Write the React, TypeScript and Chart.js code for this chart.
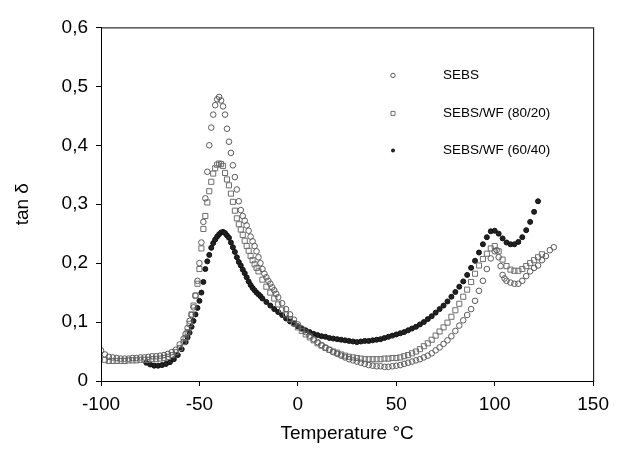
import React, { useEffect, useRef } from "react";
import { Chart, registerables } from "chart.js";

Chart.register(...registerables);

const X_TICKS = [-100, -50, 0, 50, 100, 150];
const Y_TICKS = [0, 0.1, 0.2, 0.3, 0.4, 0.5, 0.6];
const Y_TICK_LABELS = ["0", "0,1", "0,2", "0,3", "0,4", "0,5", "0,6"];

const SERIES_LABELS = ["SEBS", "SEBS/WF (80/20)", "SEBS/WF (60/40)"];

const SEBS_T = [
  -100, -98, -96, -94, -92, -90, -88, -86, -84, -82, -80, -78, -76, -74, -72, -70, -68, -66, -64, -62, -60, -58, -57, -56,
  -55, -54, -53, -52, -51, -50, -49, -48, -47, -46, -45, -44, -43, -42, -41, -40, -39, -38, -37, -36, -35, -34, -33, -32,
  -31, -30, -29, -28, -27, -26, -25, -24, -23, -22, -21, -20, -19, -18, -17, -16, -15, -14, -13, -12, -11, -10, -8, -6,
  -4, -2, 0, 2, 4, 6, 8, 10, 12, 14, 16, 18, 20, 22, 24, 26, 28, 30, 32, 34, 36, 38, 40, 42, 44, 46, 48, 50, 52, 54, 56,
  58, 60, 62, 64, 66, 68, 70, 72, 74, 76, 78, 80, 82, 84, 86, 88, 90, 92, 94, 96, 98, 100, 101, 102, 103, 104, 105, 106,
  108, 110, 112, 114, 116, 118, 120, 122, 124, 126, 128, 130,
];
const SEBS_V = [
  0.052, 0.045, 0.041, 0.04, 0.039, 0.038, 0.038, 0.038, 0.039, 0.039, 0.04, 0.04, 0.041, 0.042, 0.042, 0.043, 0.044,
  0.046, 0.049, 0.053, 0.062, 0.072, 0.08, 0.09, 0.102, 0.112, 0.125, 0.145, 0.17, 0.2, 0.235, 0.27, 0.31, 0.355, 0.4,
  0.43, 0.452, 0.468, 0.478, 0.482, 0.476, 0.466, 0.452, 0.428, 0.406, 0.387, 0.366, 0.346, 0.325, 0.305, 0.29, 0.28,
  0.272, 0.264, 0.255, 0.245, 0.237, 0.229, 0.22, 0.21, 0.2, 0.19, 0.182, 0.176, 0.17, 0.165, 0.159, 0.154, 0.148, 0.142,
  0.132, 0.122, 0.113, 0.104, 0.096, 0.089, 0.083, 0.077, 0.071, 0.066, 0.061, 0.057, 0.053, 0.049, 0.046, 0.043, 0.04,
  0.037, 0.035, 0.033, 0.031, 0.029, 0.027, 0.026, 0.025, 0.025, 0.024, 0.024, 0.025, 0.026, 0.027, 0.029, 0.031, 0.033,
  0.035, 0.037, 0.04, 0.043, 0.047, 0.052, 0.057, 0.063, 0.069, 0.076, 0.085, 0.094, 0.103, 0.112, 0.122, 0.136, 0.153,
  0.17, 0.19, 0.208, 0.22, 0.222, 0.21, 0.195, 0.18, 0.174, 0.17, 0.167, 0.165, 0.165, 0.17, 0.178, 0.186, 0.192, 0.196,
  0.205, 0.212, 0.222, 0.227,
];

const WF80_T = [
  -98, -96, -94, -92, -90, -88, -86, -84, -82, -80, -78, -76, -74, -72, -70, -68, -66, -64, -62, -60, -58, -57, -56, -55,
  -54, -53, -52, -51, -50, -49, -48, -47, -46, -45, -44, -43, -42, -41, -40, -39, -38, -37, -36, -35, -34, -33, -32, -31,
  -30, -29, -28, -27, -26, -25, -24, -23, -22, -21, -20, -18, -16, -14, -12, -10, -8, -6, -4, -2, 0, 2, 4, 6, 8, 10, 12,
  14, 16, 18, 20, 22, 24, 26, 28, 30, 32, 34, 36, 38, 40, 42, 44, 46, 48, 50, 52, 54, 56, 58, 60, 62, 64, 66, 68, 70, 72,
  74, 76, 78, 80, 82, 84, 86, 88, 90, 92, 94, 96, 98, 100, 102, 104, 106, 108, 110, 112, 114, 116, 118, 120, 122, 124,
];
const WF80_V = [
  0.036, 0.034, 0.034, 0.034, 0.034, 0.034, 0.035, 0.035, 0.035, 0.036, 0.036, 0.036, 0.037, 0.037, 0.038, 0.039, 0.041,
  0.044, 0.049, 0.056, 0.066, 0.073, 0.083, 0.097, 0.113, 0.128, 0.145, 0.165, 0.19, 0.225, 0.258, 0.28, 0.303, 0.322,
  0.338, 0.352, 0.361, 0.367, 0.369, 0.368, 0.365, 0.353, 0.342, 0.332, 0.318, 0.304, 0.289, 0.276, 0.266, 0.257, 0.248,
  0.238, 0.229, 0.221, 0.212, 0.205, 0.198, 0.192, 0.186, 0.172, 0.16, 0.15, 0.14, 0.13, 0.121, 0.113, 0.105, 0.098, 0.091,
  0.085, 0.079, 0.074, 0.069, 0.064, 0.06, 0.056, 0.053, 0.05, 0.048, 0.045, 0.043, 0.041, 0.04, 0.039, 0.038, 0.037,
  0.037, 0.037, 0.037, 0.037, 0.038, 0.038, 0.039, 0.039, 0.04, 0.042, 0.044, 0.047, 0.05, 0.054, 0.059, 0.064, 0.07,
  0.077, 0.084, 0.091, 0.099, 0.109, 0.12, 0.131, 0.143, 0.155, 0.168, 0.182, 0.196, 0.207, 0.216, 0.225, 0.229, 0.22,
  0.206, 0.195, 0.189, 0.187, 0.187, 0.19, 0.195, 0.2, 0.205, 0.21, 0.215,
];

const WF60_T = [
  -77, -75, -73, -71, -69, -67, -65, -63, -61, -59, -57, -56, -55, -54, -53, -52, -51, -50, -49, -48, -47, -46, -45, -44,
  -43, -42, -41, -40, -39, -38, -37, -36, -35, -34, -33, -32, -31, -30, -29, -28, -27, -26, -25, -24, -23, -22, -21, -20,
  -19, -18, -16, -14, -12, -10, -8, -6, -4, -2, 0, 2, 4, 6, 8, 10, 12, 14, 16, 18, 20, 22, 24, 26, 28, 30, 32, 34, 36, 38,
  40, 42, 44, 46, 48, 50, 52, 54, 56, 58, 60, 62, 64, 66, 68, 70, 72, 74, 76, 78, 80, 82, 84, 86, 88, 90, 92, 94, 96, 98,
  100, 102, 104, 106, 108, 110, 112, 114, 116, 118, 120, 122,
];
const WF60_V = [
  0.031, 0.028, 0.026, 0.026, 0.027, 0.029, 0.032, 0.037, 0.044, 0.054, 0.066, 0.074, 0.082, 0.092, 0.102, 0.113, 0.124,
  0.136, 0.15, 0.168, 0.19, 0.203, 0.214, 0.226, 0.234, 0.24, 0.245, 0.249, 0.252, 0.253, 0.251, 0.247, 0.243, 0.235,
  0.227, 0.219, 0.21, 0.202, 0.196, 0.189, 0.183, 0.176, 0.169, 0.163, 0.158, 0.154, 0.15, 0.147, 0.144, 0.14, 0.134,
  0.128, 0.122, 0.117, 0.112, 0.106, 0.101, 0.097, 0.093, 0.089, 0.086, 0.083, 0.08, 0.078, 0.076, 0.075, 0.073, 0.072,
  0.071, 0.07, 0.069, 0.068, 0.067, 0.066, 0.067, 0.068, 0.068, 0.069, 0.07, 0.071, 0.073, 0.075, 0.077, 0.079, 0.081,
  0.083, 0.086, 0.089, 0.092, 0.096, 0.1, 0.105, 0.11, 0.116, 0.122, 0.128, 0.135, 0.143, 0.151, 0.16, 0.169, 0.18, 0.192,
  0.204, 0.218, 0.232, 0.244, 0.254, 0.255, 0.25, 0.242, 0.235, 0.232, 0.232, 0.236, 0.244, 0.256, 0.27, 0.287, 0.305,
];

const FONT = "'Liberation Sans', Arial, Helvetica, sans-serif";

const toPoints = (t: number[], v: number[]) => t.map((x, i) => ({ x, y: v[i] }));

const framePlugin = {
  id: "frame",
  afterDatasetsDraw(chart: any) {
    const { ctx, chartArea } = chart;
    ctx.save();
    ctx.strokeStyle = "#000";
    ctx.lineWidth = 1;
    ctx.strokeRect(chartArea.left + 0.5, chartArea.top + 0.5, chartArea.right - chartArea.left, chartArea.bottom - chartArea.top);
    ctx.restore();
  },
};

const insideLegendPlugin = {
  id: "insideLegend",
  afterDraw(chart: any) {
    const { ctx, chartArea } = chart;
    const rows = [48, 86, 123];
    ctx.save();
    chart.data.datasets.forEach((ds: any, i: number) => {
      const y = chartArea.top + rows[i];
      const mx = chartArea.left + 292;
      ctx.lineWidth = 1;
      ctx.strokeStyle = ds.borderColor;
      ctx.fillStyle = ds.backgroundColor;
      ctx.beginPath();
      if (ds.pointStyle === "rect") {
        ctx.rect(mx - 2, y - 2, 4, 4);
        ctx.stroke();
      } else if (ds.pointStyle === "circle" && ds.backgroundColor === "transparent") {
        ctx.arc(mx, y, 2.2, 0, Math.PI * 2);
        ctx.stroke();
      } else {
        ctx.arc(mx, y, 2, 0, Math.PI * 2);
        ctx.fill();
      }
      ctx.fillStyle = "#000";
      ctx.font = `13.5px ${FONT}`;
      ctx.textBaseline = "middle";
      ctx.textAlign = "left";
      ctx.fillText(ds.label, chartArea.left + 342, y);
    });
    ctx.restore();
  },
};

export default function App() {
  const ref = useRef<HTMLCanvasElement | null>(null);

  useEffect(() => {
    if (!ref.current) return;
    const chart = new Chart(ref.current, {
      type: "scatter",
      data: {
        datasets: [
          {
            label: SERIES_LABELS[0],
            data: toPoints(SEBS_T, SEBS_V),
            pointStyle: "circle",
            pointRadius: 2.8,
            borderWidth: 1,
            borderColor: "#5a5a5a",
            backgroundColor: "transparent",
          },
          {
            label: SERIES_LABELS[1],
            data: toPoints(WF80_T, WF80_V),
            pointStyle: "rect",
            pointRadius: 3.6,
            borderWidth: 1,
            borderColor: "#6e6e6e",
            backgroundColor: "transparent",
          },
          {
            label: SERIES_LABELS[2],
            data: toPoints(WF60_T, WF60_V),
            pointStyle: "circle",
            pointRadius: 2.5,
            borderWidth: 1,
            borderColor: "#111",
            backgroundColor: "#222",
          },
        ],
      },
      options: {
        responsive: false,
        animation: false,
        events: [],
        layout: { padding: { top: 9, right: 15, left: 0, bottom: 0 } },
        plugins: { legend: { display: false }, tooltip: { enabled: false } },
        scales: {
          x: {
            type: "linear",
            min: -100,
            max: 150,
            afterBuildTicks: (scale: any) => {
              scale.ticks = X_TICKS.map((v) => ({ value: v }));
            },
            afterFit: (scale: any) => {
              scale.height = 69;
            },
            ticks: {
              color: "#000",
              font: { family: FONT, size: 19 },
              padding: 7,
              maxRotation: 0,
              callback: (v: any) => String(v),
            },
            grid: { display: true, drawOnChartArea: false, drawTicks: true, tickLength: 5, color: "#000" },
            border: { display: true, color: "#000", width: 1 },
            title: {
              display: true,
              text: "Temperature °C",
              color: "#000",
              font: { family: FONT, size: 19 },
              padding: { top: 4, bottom: 5 },
            },
          },
          y: {
            type: "linear",
            min: 0,
            max: 0.6,
            afterBuildTicks: (scale: any) => {
              scale.ticks = Y_TICKS.map((v) => ({ value: v }));
            },
            afterFit: (scale: any) => {
              scale.width = 93;
            },
            ticks: {
              color: "#000",
              font: { family: FONT, size: 19 },
              padding: 8,
              callback: (v: any) => {
                const i = Y_TICKS.findIndex((t) => Math.abs(t - v) < 1e-9);
                return i >= 0 ? Y_TICK_LABELS[i] : "";
              },
            },
            grid: { display: true, drawOnChartArea: false, drawTicks: true, tickLength: 5, color: "#000" },
            border: { display: true, color: "#000", width: 1 },
            title: {
              display: true,
              text: "tan δ",
              color: "#000",
              font: { family: FONT, size: 19 },
              padding: { top: 3, bottom: 0 },
            },
          },
        },
      },
      plugins: [framePlugin, insideLegendPlugin],
    });
    return () => chart.destroy();
  }, []);

  return (
    <div style={{ width: 608, height: 442 }}>
      <canvas ref={ref} width={608} height={442} style={{ display: "block", width: 608, height: 442 }} />
    </div>
  );
}
